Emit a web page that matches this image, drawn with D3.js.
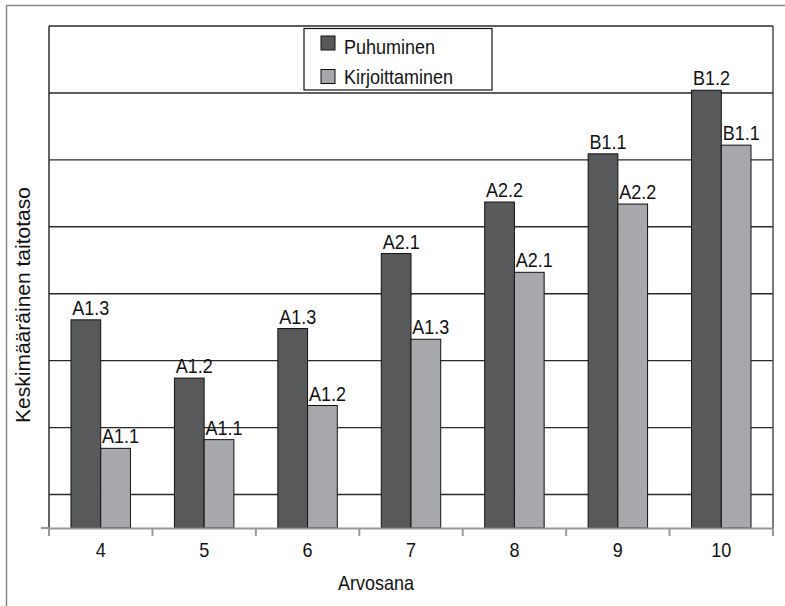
<!DOCTYPE html>
<html>
<head>
<meta charset="utf-8">
<script src="https://cdnjs.cloudflare.com/ajax/libs/d3/7.8.5/d3.min.js"></script>
<style>
body { margin: 0; background: #fff; }
text { font-family: "Liberation Sans", Arial, sans-serif; fill: #111; }
</style>
</head>
<body>
<script>
(function(){

//chart data
var grades = ["4", "5", "6", "7", "8", "9", "10"]; //categories on x axis
var seriesNames = ["Puhuminen", "Kirjoittaminen"];
var speaking = [3.61, 2.74, 3.48, 4.60, 5.37, 6.09, 7.04]; //average level, speaking
var writing = [1.69, 1.82, 2.33, 3.32, 4.32, 5.34, 6.22]; //average level, writing
var speakingLabels = ["A1.3", "A1.2", "A1.3", "A2.1", "A2.2", "B1.1", "B1.2"];
var writingLabels = ["A1.1", "A1.1", "A1.2", "A1.3", "A2.1", "A2.2", "B1.1"];
var gridValues = [1, 2, 3, 4, 5, 6, 7, 8];

var colors = ["#58595b", "#a7a8ab"];
var fontSize = 20,
    squeeze = 0.9; //text in the original looks horizontally condensed

//frame dimensions
var width = 785,
    height = 606,
    left = 49,
    right = 773,
    top = 26,
    bottom = 528;

var svg = d3.select("body")
    .append("svg")
    .attr("width", width)
    .attr("height", height);

//helper: place text at a point and squeeze it horizontally
function squeezeAt(x, y){
    return "translate(" + x + "," + y + ") scale(" + squeeze + ",1)";
}

//outer frame (runs off the right and bottom edges)
svg.append("rect")
    .attr("x", 6.5)
    .attr("y", 5.5)
    .attr("width", 900)
    .attr("height", 700)
    .attr("fill", "none")
    .attr("stroke", "#8a8a8a")
    .attr("stroke-width", 1.5);

//scales
var x0 = d3.scaleBand()
    .domain(grades)
    .range([left, right])
    .padding(0);

var x1 = d3.scaleBand()
    .domain(seriesNames)
    .range([0, x0.bandwidth()])
    .paddingInner(0)
    .paddingOuter(0.74);

var y = d3.scaleLinear()
    .domain([0.5, 8])
    .range([bottom, top]);

//horizontal gridlines
svg.selectAll(".grid")
    .data(gridValues)
    .enter()
    .append("line")
    .attr("class", "grid")
    .attr("x1", left)
    .attr("x2", right)
    .attr("y1", function(d){ return y(d); })
    .attr("y2", function(d){ return y(d); })
    .attr("stroke", "#2a2a2a")
    .attr("stroke-width", 1.4);

//right border of plot area
svg.append("line")
    .attr("x1", right)
    .attr("x2", right)
    .attr("y1", top)
    .attr("y2", bottom)
    .attr("stroke", "#444")
    .attr("stroke-width", 1.4);

//build rows for bars
var rows = [];
grades.forEach(function(g, i){
    rows.push({grade: g, series: seriesNames[0], value: speaking[i], label: speakingLabels[i], color: colors[0]});
    rows.push({grade: g, series: seriesNames[1], value: writing[i], label: writingLabels[i], color: colors[1]});
});

//bars
svg.selectAll(".bar")
    .data(rows)
    .enter()
    .append("rect")
    .attr("class", "bar")
    .attr("x", function(d){ return x0(d.grade) + x1(d.series); })
    .attr("width", x1.bandwidth())
    .attr("y", function(d){ return y(d.value); })
    .attr("height", function(d){ return y(0.5) - y(d.value); })
    .attr("fill", function(d){ return d.color; })
    .attr("stroke", "#111")
    .attr("stroke-width", 1);

//value labels above bars
svg.selectAll(".barLabel")
    .data(rows)
    .enter()
    .append("text")
    .attr("class", "barLabel")
    .attr("transform", function(d){
        return squeezeAt(x0(d.grade) + x1(d.series) + x1.bandwidth() / 2 + 5, y(d.value) - 5);
    })
    .attr("text-anchor", "middle")
    .attr("font-size", fontSize)
    .text(function(d){ return d.label; });

//y axis line
svg.append("line")
    .attr("x1", left)
    .attr("x2", left)
    .attr("y1", top)
    .attr("y2", bottom)
    .attr("stroke", "#222")
    .attr("stroke-width", 1.4);

//x axis
var xAxis = d3.axisBottom(x0)
    .tickSize(0)
    .tickPadding(0);

var axis = svg.append("g")
    .attr("class", "axis")
    .attr("transform", "translate(0," + bottom + ")")
    .call(xAxis);

axis.select(".domain")
    .attr("stroke", "#999")
    .attr("stroke-width", 2);

axis.selectAll("text")
    .attr("font-size", fontSize)
    .attr("font-family", null)
    .attr("dy", 0)
    .attr("y", 0)
    .attr("transform", squeezeAt(0, 28.5))
    .attr("fill", "#111");

//tick marks between categories
var boundaries = grades.map(function(g){ return x0(g); }).concat([right]);
svg.selectAll(".catTick")
    .data(boundaries)
    .enter()
    .append("line")
    .attr("class", "catTick")
    .attr("x1", function(d){ return d; })
    .attr("x2", function(d){ return d; })
    .attr("y1", bottom)
    .attr("y2", bottom + 8)
    .attr("stroke", "#999")
    .attr("stroke-width", 2);

//small tick left of the axis origin
svg.append("line")
    .attr("x1", left - 8)
    .attr("x2", left)
    .attr("y1", bottom)
    .attr("y2", bottom)
    .attr("stroke", "#999")
    .attr("stroke-width", 2);

//axis titles
svg.append("text")
    .attr("transform", squeezeAt(376, 590))
    .attr("text-anchor", "middle")
    .attr("font-size", fontSize)
    .text("Arvosana");

svg.append("text")
    .attr("transform", "translate(30,305) rotate(-90)")
    .attr("text-anchor", "middle")
    .attr("font-size", 21)
    .text("Keskimääräinen taitotaso");

//legend
var legend = svg.append("g")
    .attr("class", "legend");

legend.append("rect")
    .attr("x", 304)
    .attr("y", 28.5)
    .attr("width", 188)
    .attr("height", 61.5)
    .attr("fill", "#fff")
    .attr("stroke", "#111")
    .attr("stroke-width", 1.2);

var items = legend.selectAll(".item")
    .data(seriesNames)
    .enter()
    .append("g")
    .attr("class", "item");

items.append("rect")
    .attr("x", 321)
    .attr("y", function(d, i){ return 36 + i * 33.5; })
    .attr("width", 14)
    .attr("height", 14)
    .attr("fill", function(d, i){ return colors[i]; })
    .attr("stroke", "#111")
    .attr("stroke-width", 1);

items.append("text")
    .attr("transform", function(d, i){ return squeezeAt(344, 53.5 + i * 30); })
    .attr("font-size", fontSize)
    .text(function(d){ return d; });

})();
</script>
</body>
</html>
